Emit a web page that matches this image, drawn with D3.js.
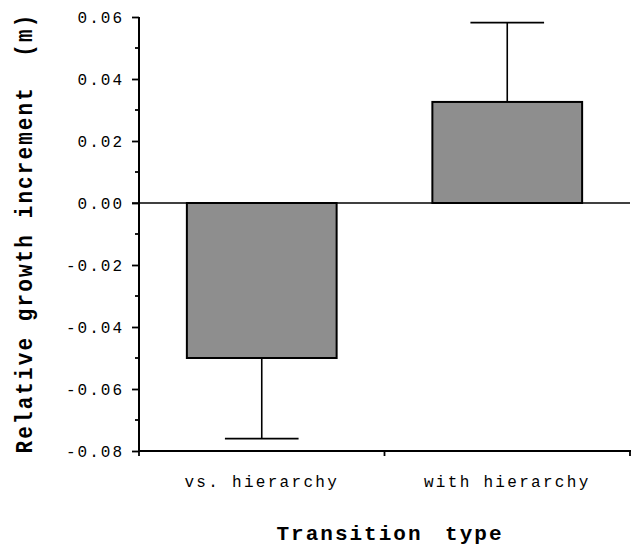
<!DOCTYPE html>
<html><head><meta charset="utf-8">
<script src="https://cdn.jsdelivr.net/npm/d3@7"></script>
<style>
html,body{margin:0;padding:0;background:#fff;}
svg{display:block;}
</style></head>
<body>
<script>
const categories = ["vs. hierarchy", "with hierarchy"];
const means = [-0.050, 0.0326];
const errors = [0.026, 0.0256];
const yTicks = [-0.08, -0.06, -0.04, -0.02, 0.00, 0.02, 0.04, 0.06];
const yMinorTicks = [-0.07, -0.05, -0.03, -0.01, 0.01, 0.03, 0.05];
const yTitle = "Relative growth increment  (m)";
const xTitle = "Transition type";

const W = 633, H = 546;
const svg = d3.select("body").append("svg").attr("width", W).attr("height", H);

const y = d3.scaleLinear().domain([-0.08, 0.06]).range([451, 17]);
const x = d3.scaleBand().domain(categories).range([139, 630]).padding(0);
const bw = x.bandwidth();
const barW = bw * 0.61, capW = bw * 0.30;

const mono = "'Liberation Mono', 'Courier New', monospace";

// bars
const g = svg.append("g");
categories.forEach((c, i) => {
  const cx = x(c) + bw / 2;
  const v = means[i];
  const y0 = y(0), y1 = y(v);
  const ye = y(v + Math.sign(v) * errors[i]);
  g.append("line").attr("x1", cx).attr("x2", cx).attr("y1", y1).attr("y2", ye)
    .attr("stroke", "#000").attr("stroke-width", 1.6);
  g.append("line").attr("x1", cx - capW / 2).attr("x2", cx + capW / 2).attr("y1", ye).attr("y2", ye)
    .attr("stroke", "#000").attr("stroke-width", 1.8);
  g.append("rect").attr("x", cx - barW / 2).attr("width", barW)
    .attr("y", Math.min(y0, y1)).attr("height", Math.abs(y1 - y0))
    .attr("fill", "#8e8e8e").attr("stroke", "#000").attr("stroke-width", 2);
});

// zero line
svg.append("line").attr("x1", 132).attr("x2", 630).attr("y1", y(0)).attr("y2", y(0))
  .attr("stroke", "#000").attr("stroke-width", 1.6);

// y axis
const yAxis = d3.axisLeft(y).tickValues(yTicks).tickSize(7).tickPadding(8)
  .tickFormat(d => d3.format(".2f")(d).replace("−", "-"));
const ya = svg.append("g").attr("transform", "translate(139,0)").call(yAxis);
ya.select(".domain").attr("stroke-width", 2).attr("d", `M0,${y(0.06)}V${y(-0.08)}`);
ya.selectAll(".tick line").attr("stroke-width", 1.8);
ya.selectAll("text").attr("font-family", mono).attr("font-size", 16)
  .attr("letter-spacing", "2px").attr("fill", "#000");
const yMinor = svg.append("g").attr("transform", "translate(139,0)");
yMinor.selectAll("line").data(yMinorTicks).join("line")
  .attr("x1", -4).attr("x2", 0).attr("y1", d => y(d)).attr("y2", d => y(d))
  .attr("stroke", "#000").attr("stroke-width", 1.8);

// x axis
svg.append("line").attr("x1", 139).attr("x2", 631).attr("y1", 451).attr("y2", 451)
  .attr("stroke", "#000").attr("stroke-width", 2);
const xBounds = [x(categories[0]), x(categories[1]), x(categories[1]) + bw];
svg.append("g").selectAll("line").data(xBounds).join("line")
  .attr("x1", d => d).attr("x2", d => d).attr("y1", 451).attr("y2", 456)
  .attr("stroke", "#000").attr("stroke-width", 1.8);
svg.append("g").selectAll("text").data(categories).join("text")
  .attr("x", d => x(d) + bw / 2).attr("y", 487)
  .attr("text-anchor", "middle").attr("font-family", mono).attr("font-size", 16)
  .attr("letter-spacing", "2.3px").text(d => d);

// titles
svg.append("text").attr("x", 390).attr("y", 540).attr("text-anchor", "middle")
  .attr("font-family", mono).attr("font-size", 21).attr("font-weight", "bold")
  .attr("letter-spacing", "2px").attr("word-spacing", "8px").text(xTitle);
svg.append("text")
  .attr("transform", "translate(32,233) rotate(-90) scale(1,1.1)")
  .attr("text-anchor", "middle")
  .attr("font-family", mono).attr("font-size", 21).attr("font-weight", "bold")
  .attr("letter-spacing", "2.1px")
  .style("white-space", "pre").text(yTitle);
</script>
</body></html>
